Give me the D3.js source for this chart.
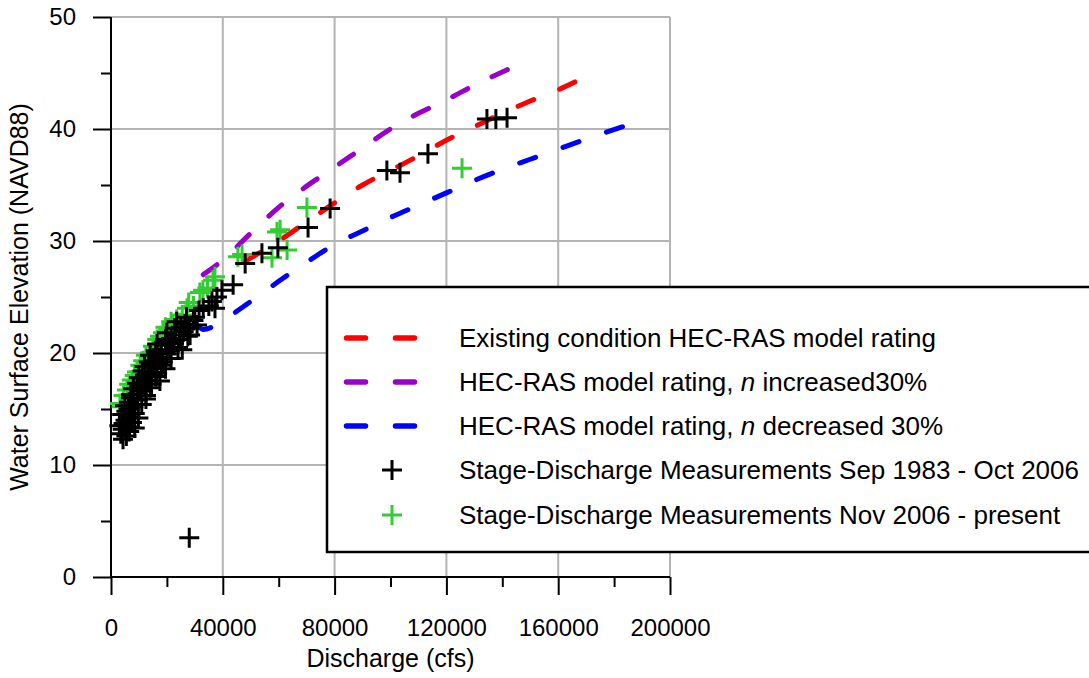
<!DOCTYPE html>
<html>
<head>
<meta charset="utf-8">
<script src="https://cdn.jsdelivr.net/npm/d3@7"></script>
<style>
  html, body { margin: 0; padding: 0; background: #fff; }
  svg { display: block; }
  text { font-family: "Liberation Sans", Arial, sans-serif; fill: #000; }
</style>
</head>
<body>
<svg id="chart" width="1089" height="678"></svg>
<script>
// ---------- data ----------
const xMajorTicks = [0, 40000, 80000, 120000, 160000, 200000];
const xMinorTicks = [20000, 60000, 100000, 140000, 180000];
const yMajorTicks = [0, 10, 20, 30, 40, 50];
const yMinorTicks = [5, 15, 25, 35, 45];

const existingRating = [
  [48000, 28.2], [60000, 30.0], [70000, 31.7], [80000, 33.4], [90000, 35.0],
  [100000, 36.3], [110000, 37.6], [120000, 39.0], [130000, 40.2], [140000, 41.4],
  [150000, 42.5], [160000, 43.5], [166000, 44.2]
];
const increasedRating = [
  [33000, 27.0], [40000, 28.3], [50000, 30.7], [60000, 33.0], [70000, 34.9],
  [80000, 36.6], [90000, 38.3], [100000, 40.0], [110000, 41.4], [120000, 42.6],
  [130000, 43.9], [141800, 45.3]
];
const decreasedRating = [
  [30500, 22.6], [33000, 22.1], [36000, 22.3], [40000, 22.9], [50000, 24.6],
  [60000, 26.4], [70000, 28.1], [80000, 29.7], [90000, 30.9], [100000, 32.1],
  [110000, 33.2], [120000, 34.3], [130000, 35.4], [140000, 36.4], [150000, 37.3],
  [160000, 38.2], [170000, 39.1], [183000, 40.2]
];

const measured1983 = [
  [4300, 12.3], [3500, 12.8], [5500, 12.6], [6500, 13.0], [4200, 13.2],
  [3000, 13.5], [4500, 13.7], [6000, 13.4], [7500, 13.8], [8500, 13.3], [5200, 14.0],
  [4000, 14.5], [5500, 14.8], [7000, 14.3], [8500, 14.6], [9800, 14.2], [6300, 15.0],
  [5000, 15.3], [6500, 15.6], [8000, 15.2], [9500, 15.8], [11000, 15.4], [12500, 15.9], [7200, 16.0],
  [7200, 16.3], [8000, 16.8], [9500, 16.3], [11000, 16.6], [12500, 16.2], [14000, 16.9], [10200, 17.0],
  [9300, 17.3], [10000, 17.8], [11500, 17.3], [13000, 17.6], [14500, 17.2], [16000, 17.9], [17500, 17.5], [12200, 18.0],
  [11300, 18.4], [12000, 18.8], [13500, 18.3], [15000, 18.7], [16500, 18.2], [18000, 18.9], [19500, 18.6], [14200, 19.0],
  [13500, 19.2], [14000, 19.8], [15500, 19.3], [17000, 19.6], [18500, 19.2], [20000, 19.9], [21500, 19.5], [16200, 20.0],
  [16000, 20.2], [16500, 20.8], [18000, 20.3], [19500, 20.7], [21000, 20.2], [22500, 20.9], [24000, 20.5], [25500, 20.3], [20200, 21.0],
  [19500, 21.2], [20000, 21.8], [21500, 21.3], [23000, 21.6], [24500, 21.2], [26000, 21.9], [27500, 21.5], [28300, 21.6],
  [22800, 22.2], [23500, 22.8], [25000, 22.3], [26500, 22.6], [28000, 22.2], [29500, 22.9], [30800, 22.5],
  [27000, 23.2], [30000, 23.2], [31500, 23.8], [33000, 24.0],
  [35000, 24.2], [36100, 24.6], [37200, 24.0], [37900, 25.0], [39700, 25.6], [43700, 26.1],
  [48000, 28.0], [54000, 28.9], [59700, 29.4], [70500, 31.2], [78400, 32.9], [98700, 36.3],
  [103400, 36.1], [113400, 37.8], [134500, 40.9], [137700, 40.9], [141700, 41.0], [28000, 3.5]
];
const measured2006 = [
  [3200, 15.5], [3800, 15.2], [4500, 16.2], [5700, 16.7], [6500, 17.2], [7500, 17.6],
  [8500, 18.0], [9300, 18.3], [10500, 18.9], [11500, 19.3], [12500, 19.8], [13900, 20.0],
  [15000, 20.6], [16500, 21.2], [17500, 21.5], [18600, 21.8], [19500, 22.3], [20500, 22.1],
  [21500, 22.8], [22200, 22.5], [23500, 23.0], [24500, 22.7], [25500, 23.4], [27200, 24.0],
  [27800, 24.5], [29500, 24.2], [31800, 25.4], [32900, 25.6], [34500, 25.8], [36500, 26.5],
  [37200, 26.8], [45400, 28.6], [46900, 28.8], [57600, 28.5], [59400, 30.8], [60500, 31.0],
  [63000, 29.2], [70100, 33.0], [125600, 36.5]
];

const legendLabels = [
  ["Existing condition HEC-RAS model rating"],
  ["HEC-RAS model rating, ", "n", " increased30%"],
  ["HEC-RAS model rating, ", "n", " decreased 30%"],
  ["Stage-Discharge Measurements Sep 1983 - Oct 2006"],
  ["Stage-Discharge Measurements Nov 2006 - present"]
];

// ---------- layout ----------
const svg = d3.select("#chart");
const L = 111, R = 670, T = 17, B = 577;
const x = d3.scaleLinear().domain([0, 200000]).range([L, R]);
const y = d3.scaleLinear().domain([0, 50]).range([B, T]);

const RED = "#ff0000", PURPLE = "#9900cc", BLUE = "#0000ff", GREEN = "#33cc33";

// grid
const grid = svg.append("g").attr("stroke", "#b4b4b4").attr("stroke-width", 2);
grid.selectAll("line.gx").data(xMajorTicks.filter(d => d > 0)).join("line")
  .attr("x1", d => x(d)).attr("x2", d => x(d)).attr("y1", T).attr("y2", B);
grid.selectAll("line.gy").data(yMajorTicks.filter(d => d > 0)).join("line")
  .attr("x1", L).attr("x2", R).attr("y1", d => y(d)).attr("y2", d => y(d));

// axes
function styleAxis(g) {
  g.select(".domain").remove();
  g.selectAll(".tick line").attr("stroke", "#000").attr("stroke-width", 2);
  g.selectAll(".tick text").style("font-size", "24px").style("font-family", "'Liberation Sans', Arial, sans-serif");
}
svg.append("g").attr("transform", `translate(${L},0)`)
  .call(d3.axisLeft(y).tickValues(yMinorTicks).tickSize(10).tickFormat(""))
  .call(styleAxis);
svg.append("g").attr("transform", `translate(${L},0)`)
  .call(d3.axisLeft(y).tickValues(yMajorTicks).tickSize(18).tickPadding(17).tickFormat(d3.format("d")))
  .call(styleAxis);
svg.append("g").attr("transform", `translate(0,${B})`)
  .call(d3.axisBottom(x).tickValues(xMinorTicks).tickSize(10).tickFormat(""))
  .call(styleAxis);
svg.append("g").attr("transform", `translate(0,${B})`)
  .call(d3.axisBottom(x).tickValues(xMajorTicks).tickSize(18).tickPadding(24).tickFormat(d3.format("d")))
  .call(styleAxis);

svg.append("line").attr("x1", L).attr("x2", L).attr("y1", T).attr("y2", B)
  .attr("stroke", "#000").attr("stroke-width", 2);
svg.append("line").attr("x1", L).attr("x2", R).attr("y1", B).attr("y2", B)
  .attr("stroke", "#000").attr("stroke-width", 2);

// axis titles
svg.append("text").attr("x", (L + R) / 2).attr("y", 667).attr("text-anchor", "middle")
  .style("font-size", "25px").text("Discharge (cfs)");
svg.append("text").attr("transform", `translate(28,${(T + B) / 2}) rotate(-90)`)
  .attr("text-anchor", "middle").style("font-size", "25px")
  .text("Water Surface Elevation (NAVD88)");

// rating curves (dash pattern fitted so the curve starts and ends on a dash)
const line = d3.line().x(d => x(d[0])).y(d => y(d[1])).curve(d3.curveMonotoneX);
[[existingRating, RED], [increasedRating, PURPLE], [decreasedRating, BLUE]].forEach(([data, c]) => {
  const p = svg.append("path").datum(data).attr("d", line)
    .attr("fill", "none").attr("stroke", c).attr("stroke-width", 5)
    .attr("stroke-linecap", "round");
  const len = p.node().getTotalLength();
  const dash = 17, gap0 = 29;
  const n = Math.max(2, Math.round((len + gap0) / (dash + gap0)));
  const gap = (len - n * dash) / (n - 1);
  p.attr("stroke-dasharray", `${dash},${gap}`);
});

// measurements
const plus = "M-10,0H10M0,-10V10";
svg.append("g").selectAll("path").data(measured2006).join("path")
  .attr("d", plus).attr("transform", d => `translate(${x(d[0])},${y(d[1])})`)
  .attr("stroke", GREEN).attr("stroke-width", 3).attr("fill", "none");
svg.append("g").selectAll("path").data(measured1983).join("path")
  .attr("d", plus).attr("transform", d => `translate(${x(d[0])},${y(d[1])})`)
  .attr("stroke", "#000").attr("stroke-width", 3).attr("fill", "none");

// legend
const lg = svg.append("g");
lg.append("rect").attr("x", 327).attr("y", 287).attr("width", 790).attr("height", 265)
  .attr("fill", "#fff").attr("stroke", "#000").attr("stroke-width", 2.5);
const rowY = [338, 382, 426, 470, 515];
const sym = [
  {type: "line", c: RED}, {type: "line", c: PURPLE}, {type: "line", c: BLUE},
  {type: "plus", c: "#000"}, {type: "plus", c: GREEN}
];
sym.forEach((s, i) => {
  if (s.type === "line") {
    lg.append("line").attr("x1", 346.5).attr("x2", 414.5).attr("y1", rowY[i]).attr("y2", rowY[i])
      .attr("stroke", s.c).attr("stroke-width", 5.5).attr("stroke-linecap", "round")
      .attr("stroke-dasharray", "19,30");
  } else {
    lg.append("path").attr("d", plus).attr("transform", `translate(392,${rowY[i]})`)
      .attr("stroke", s.c).attr("stroke-width", 3).attr("fill", "none");
  }
  const t = lg.append("text").attr("x", 459).attr("y", rowY[i]).attr("dy", "0.36em")
    .style("font-size", "26px");
  legendLabels[i].forEach((part, j) => {
    const ts = t.append("tspan").text(part);
    if (part === "n" && j === 1) ts.style("font-style", "italic");
  });
});
</script>
</body>
</html>
